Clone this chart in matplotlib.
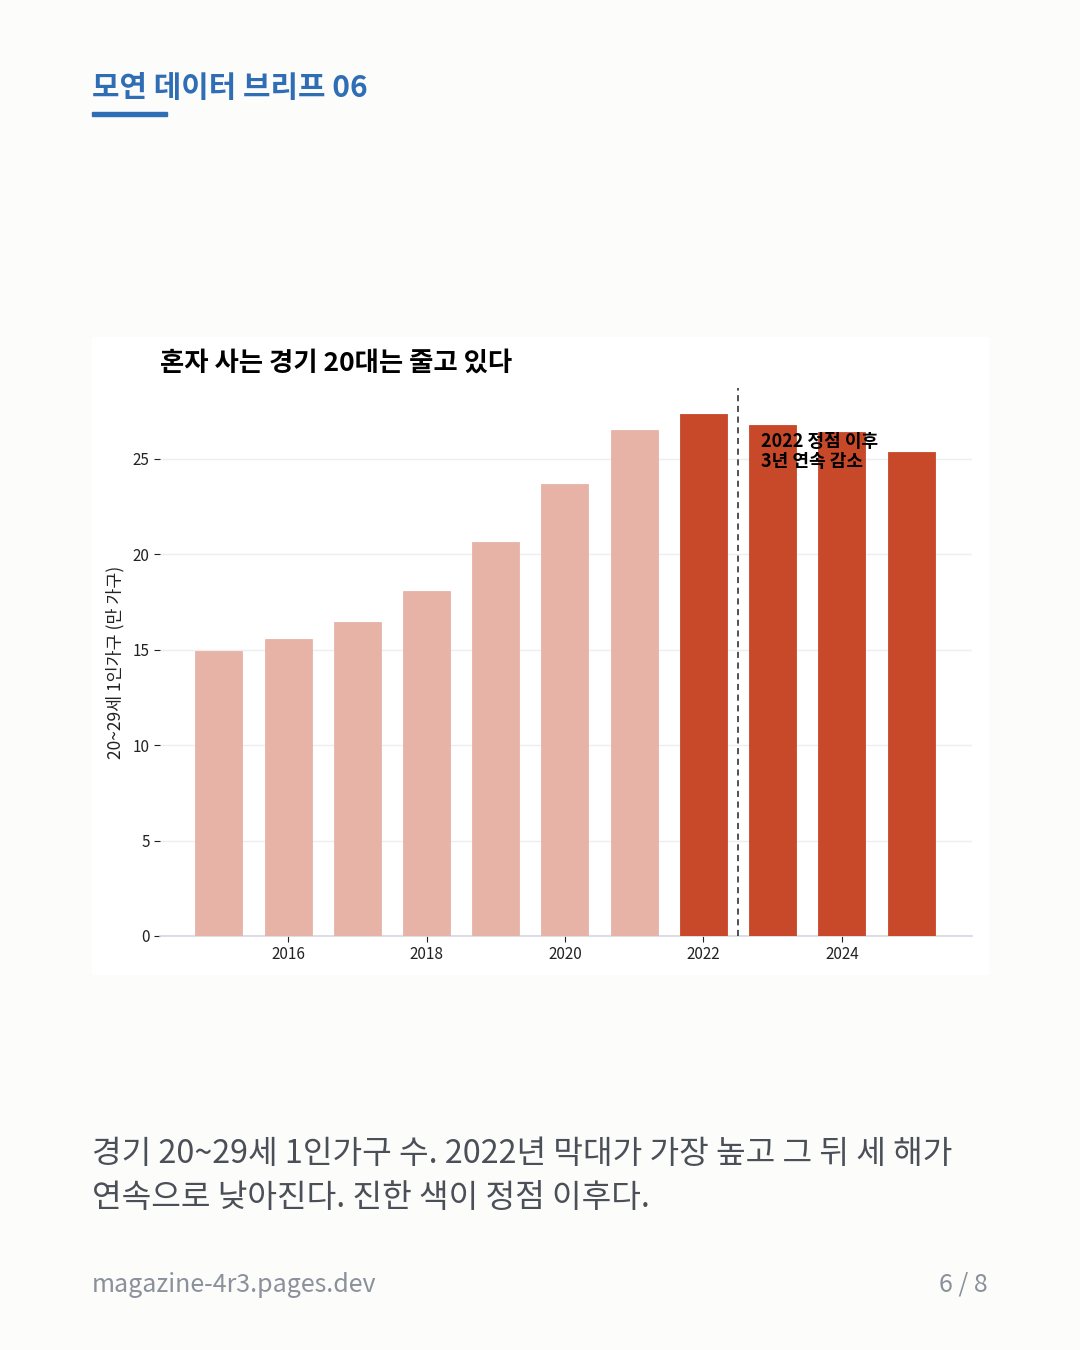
import matplotlib.pyplot as plt
from matplotlib.patches import Rectangle

plt.rcParams['font.family'] = ['Noto Sans CJK KR', 'DejaVu Sans']

# 경기 20~29세 1인가구 (만 가구)
years = [2015, 2016, 2017, 2018, 2019, 2020, 2021, 2022, 2023, 2024, 2025]
values = [14.95, 15.55, 16.45, 18.1, 20.65, 23.7, 26.5, 27.35, 26.8, 26.4, 25.35]
peak_year = 2022
tick_years = [2016, 2018, 2020, 2022, 2024]

light = '#E7B3A7'
dark = '#C8482A'
bg = '#FCFCFA'

fig = plt.figure(figsize=(10.8, 13.5), dpi=100)
fig.patch.set_facecolor(bg)

# header
fig.text(92/1080, 1 - 88/1350, '모연 데이터 브리프 06', fontsize=21.5, fontweight='bold',
         color='#2F6DB5', va='center', ha='left')
fig.patches.append(Rectangle((92/1080, 1 - 116/1350), 75/1080, 4/1350,
                             transform=fig.transFigure, color='#2F6DB5'))

# white card behind the chart
fig.patches.append(Rectangle((92/1080, 1 - 974/1350), 896/1080, 637/1350,
                             transform=fig.transFigure, color='white', zorder=-5))

ax = fig.add_axes([160/1080, 1 - 936/1350, 812/1080, 548/1350])
ax.set_zorder(2)
ax.set_facecolor('white')

colors = [dark if y >= peak_year else light for y in years]
ax.bar(years, values, width=0.68, color=colors, edgecolor=colors, linewidth=0.6, zorder=3)

ax.set_ylim(0, max(values) * 1.05)
ax.set_xlim(years[0] - 0.85, years[-1] + 0.88)
ax.set_yticks([0, 5, 10, 15, 20, 25])
ax.set_xticks(tick_years)
ax.tick_params(axis='both', labelsize=11, colors='#222222', length=4, width=0.8)
ax.grid(axis='y', color='#EEEEF2', linewidth=1, zorder=0)
for s in ['top', 'right', 'left']:
    ax.spines[s].set_visible(False)
ax.spines['bottom'].set_color('#D5D8E0')
ax.spines['bottom'].set_linewidth(1.2)

ax.axvline(peak_year + 0.5, color='#222222', linestyle=(0, (4, 3)), linewidth=1.1, zorder=4)
ax.text(peak_year + 0.83, 25.4, '2022 정점 이후\n3년 연속 감소', fontsize=13, fontweight='bold',
        color='black', ha='left', va='center', linespacing=1.1, zorder=5)

ax.set_ylabel('20~29세 1인가구 (만 가구)', fontsize=12.5, color='#222222', labelpad=6)

fig.text(160/1080, 1 - 363/1350, '혼자 사는 경기 20대는 줄고 있다', fontsize=19,
         fontweight='bold', color='black', va='center', ha='left', zorder=3)

# caption
fig.text(92/1080, 1 - 1154/1350, '경기 20~29세 1인가구 수. 2022년 막대가 가장 높고 그 뒤 세 해가',
         fontsize=23.2, color='#4A4F58', va='center', ha='left', fontweight='light')
fig.text(92/1080, 1 - 1198/1350, '연속으로 낮아진다. 진한 색이 정점 이후다.',
         fontsize=23.2, color='#4A4F58', va='center', ha='left', fontweight='light')

# footer
fig.text(92/1080, 1 - 1285/1350, 'magazine-4r3.pages.dev', fontsize=18, color='#8A909C',
         va='center', ha='left', fontweight='light')
fig.text(988/1080, 1 - 1285/1350, '6 / 8', fontsize=18, color='#8A909C',
         va='center', ha='right', fontweight='light')

fig.savefig('out.png', dpi=100, facecolor=bg)
